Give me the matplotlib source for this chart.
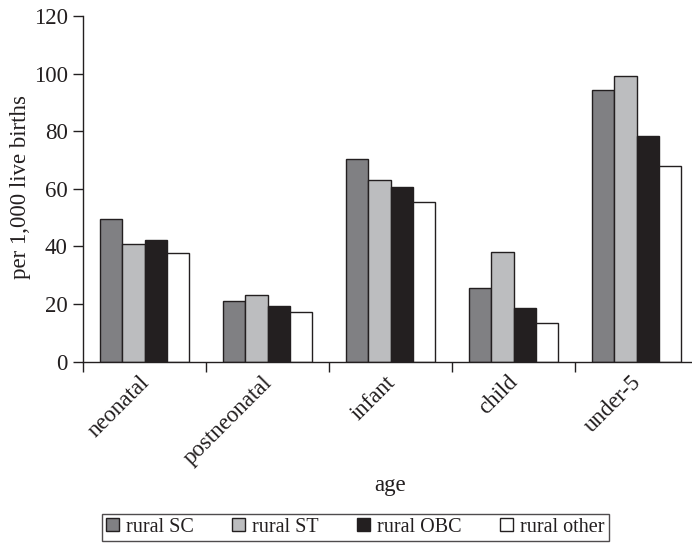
import matplotlib
matplotlib.use("Agg")
import matplotlib.pyplot as plt
import matplotlib.transforms as mtransforms
import numpy as np

categories = ["neonatal", "postneonatal", "infant", "child", "under-5"]
series_names = ["rural SC", "rural ST", "rural OBC", "rural other"]
rural_sc = [49.4, 21.1, 70.3, 25.7, 94.2]
rural_st = [40.8, 23.1, 63.1, 38.2, 99.3]
rural_obc = [42.2, 19.2, 60.6, 18.6, 78.4]
rural_other = [37.6, 17.1, 55.3, 13.3, 67.8]
yticks = [0, 20, 40, 60, 80, 100, 120]

colors = ["#808083", "#bcbdbf", "#231f20", "#ffffff"]
edge = "#231f20"
txt = "#231f20"

plt.rcParams["font.family"] = ["Liberation Serif", "DejaVu Serif"]

fig = plt.figure(figsize=(6.92, 5.55), dpi=100)
W, H = 692, 555
left, right, top, bottom = 83, 698, 16, 361.7
ax = fig.add_axes([left / W, (H - bottom) / H, (right - left) / W, (bottom - top) / H])

x = np.arange(len(categories))
bw = 0.18
all_series = [rural_sc, rural_st, rural_obc, rural_other]
for i, (vals, name, c) in enumerate(zip(all_series, series_names, colors)):
    ax.bar(x + (i - 1.5) * bw, vals, width=bw, color=c, edgecolor=edge,
           linewidth=1.0, label=name)

ax.set_xlim(-0.5, len(categories) - 0.5)
ax.set_ylim(0, 120)
ax.set_yticks(yticks)
ax.tick_params(axis="y", direction="out", length=7.5, width=1, labelsize=16.5,
               colors=txt, pad=3.5)
ax.set_xticks(x)
ax.set_xticklabels(categories, rotation=45, ha="right", rotation_mode="anchor",
                   fontsize=16.5, color=txt)
ax.tick_params(axis="x", which="major", length=0, pad=8)
offset = mtransforms.ScaledTranslation(-6 / 100, 1 / 100, fig.dpi_scale_trans)
for lab in ax.get_xticklabels():
    lab.set_transform(lab.get_transform() + offset)
ax.set_xticks(np.arange(-0.5, len(categories) - 0.5, 1.0), minor=True)
ax.tick_params(axis="x", which="minor", direction="out", length=7, width=1,
               colors=txt)

for s in ["top", "right"]:
    ax.spines[s].set_visible(False)
for s in ["left", "bottom"]:
    ax.spines[s].set_color(txt)
    ax.spines[s].set_linewidth(1.0)

fig.text(21 / W, (H - 187) / H, "per 1,000 live births", rotation=90,
         ha="center", va="center", fontsize=16.5, color=txt)
fig.text(390 / W, (H - 486) / H, "age", ha="center", va="center",
         fontsize=16.5, color=txt)

leg = fig.legend(loc="center", bbox_to_anchor=(355.4 / W, (H - 527.3) / H),
                 ncol=4, frameon=True, fancybox=False, fontsize=14.5,
                 handlelength=0.65, handleheight=0.65, handletextpad=0.35,
                 columnspacing=1.9, borderpad=0.2, borderaxespad=0)
leg.get_frame().set_edgecolor(txt)
leg.get_frame().set_linewidth(1.0)
for t in leg.get_texts():
    t.set_color(txt)

fig.savefig("out.png", dpi=100)
